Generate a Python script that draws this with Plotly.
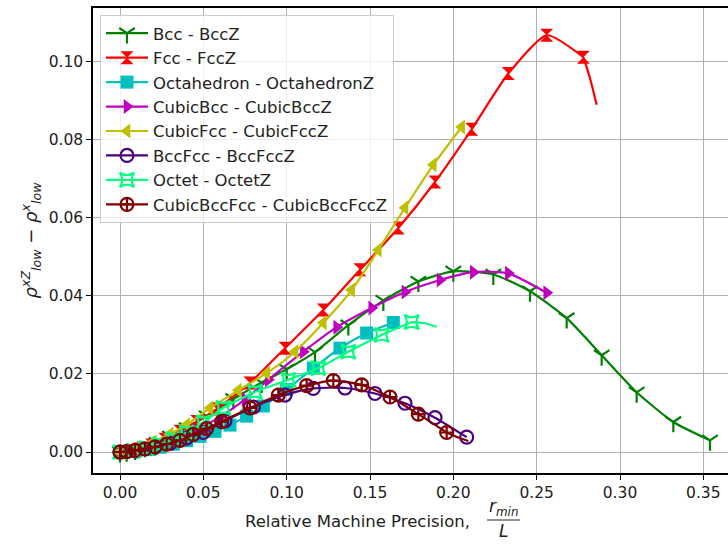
import plotly.graph_objects as go

# ---------------- data ----------------
names = ["Bcc - BccZ", "Fcc - FccZ", "Octahedron - OctahedronZ", "CubicBcc - CubicBccZ",
         "CubicFcc - CubicFccZ", "BccFcc - BccFccZ", "Octet - OctetZ", "CubicBccFcc - CubicBccFccZ"]
colors = ["#008000", "#ff0000", "#00bfbf", "#bf00bf", "#bfbf00", "#4b0082", "#00ff7f", "#800000"]
symbols = ["y-down-open", "hourglass", "square", "triangle-right", "triangle-left",
           "circle-open", "star-square-open", "circle-cross-open"]

bcc_x = [0.0, 0.004, 0.009, 0.015, 0.022, 0.030, 0.040, 0.052, 0.068, 0.085, 0.100, 0.117, 0.137,
         0.158, 0.179, 0.200, 0.224, 0.246, 0.268, 0.289, 0.310, 0.332, 0.354]
bcc_y = [0.0, 0.0002, 0.0006, 0.0013, 0.0024, 0.0040, 0.0062, 0.0092, 0.0136, 0.0178, 0.0212, 0.0256,
         0.0325, 0.0388, 0.0437, 0.0463, 0.0455, 0.0412, 0.0343, 0.0248, 0.0153, 0.0077, 0.0030]

fcc_x = [0.0, 0.006, 0.012, 0.019, 0.027, 0.036, 0.046, 0.058, 0.078, 0.099, 0.122, 0.144, 0.167,
         0.189, 0.211, 0.233, 0.256, 0.278]
fcc_y = [0.0, 0.0002, 0.0008, 0.0018, 0.0033, 0.0053, 0.0078, 0.0110, 0.0177, 0.0266, 0.0364, 0.0467,
         0.0574, 0.0692, 0.0827, 0.0970, 0.1068, 0.1012]
fcc_tail_x = [0.278, 0.282, 0.286]
fcc_tail_y = [0.1012, 0.0958, 0.0890]

octa_x = [0.0, 0.008, 0.016, 0.024, 0.032, 0.040, 0.048, 0.057, 0.066, 0.076, 0.086, 0.100, 0.116,
          0.132, 0.148, 0.164]
octa_y = [0.0, 0.0002, 0.0006, 0.0012, 0.0020, 0.0029, 0.0040, 0.0053, 0.0069, 0.0092, 0.0118, 0.0160,
          0.0215, 0.0266, 0.0305, 0.0332]

cbcc_x = [0.0, 0.010, 0.020, 0.030, 0.045, 0.060, 0.075, 0.089, 0.110, 0.130, 0.151, 0.171, 0.192,
          0.212, 0.233, 0.256]
cbcc_y = [0.0, 0.0004, 0.0013, 0.0028, 0.0055, 0.0090, 0.0135, 0.0185, 0.0257, 0.0320, 0.0369, 0.0410,
          0.0441, 0.0461, 0.0458, 0.0408]

cfcc_x = [0.0, 0.010, 0.020, 0.030, 0.040, 0.054, 0.071, 0.088, 0.105, 0.122, 0.139, 0.155, 0.171,
          0.188, 0.205]
cfcc_y = [0.0, 0.0010, 0.0026, 0.0046, 0.0070, 0.0113, 0.0158, 0.0202, 0.0257, 0.0331, 0.0415, 0.0518,
          0.0626, 0.0736, 0.0833]

bf_x = [0.0, 0.010, 0.020, 0.030, 0.040, 0.050, 0.063, 0.080, 0.099, 0.116, 0.135, 0.153, 0.171,
        0.189, 0.208]
bf_y = [0.0, 0.0003, 0.0010, 0.0022, 0.0036, 0.0050, 0.0080, 0.0115, 0.0146, 0.0163, 0.0164, 0.0150,
        0.0125, 0.0088, 0.0038]

oct_x = [0.0, 0.008, 0.016, 0.024, 0.032, 0.040, 0.050, 0.062, 0.081, 0.101, 0.119, 0.137, 0.157, 0.175]
oct_y = [0.0, 0.0003, 0.0010, 0.0020, 0.0033, 0.0050, 0.0076, 0.0113, 0.0154, 0.0185, 0.0215, 0.0257,
         0.0300, 0.0333]
oct_tail_x = [0.175, 0.183, 0.190]
oct_tail_y = [0.0333, 0.0330, 0.0321]

cbf_x = [0.0, 0.004, 0.009, 0.015, 0.021, 0.028, 0.036, 0.044, 0.052, 0.061, 0.078, 0.095, 0.112,
         0.128, 0.145, 0.162, 0.179, 0.196]
cbf_y = [0.0, 0.0001, 0.0004, 0.0008, 0.0013, 0.0020, 0.0030, 0.0045, 0.0060, 0.0078, 0.0113, 0.0146,
         0.0170, 0.0183, 0.0172, 0.0141, 0.0097, 0.0050]
cbf_tail_x = [0.196, 0.203, 0.209]
cbf_tail_y = [0.0050, 0.0037, 0.0028]

xs = [bcc_x, fcc_x, octa_x, cbcc_x, cfcc_x, bf_x, oct_x, cbf_x]
ys = [bcc_y, fcc_y, octa_y, cbcc_y, cfcc_y, bf_y, oct_y, cbf_y]
tails = {1: (fcc_tail_x, fcc_tail_y), 6: (oct_tail_x, oct_tail_y), 7: (cbf_tail_x, cbf_tail_y)}

x_ticks = [0.0, 0.05, 0.10, 0.15, 0.20, 0.25, 0.30, 0.35]
y_ticks = [0.0, 0.02, 0.04, 0.06, 0.08, 0.10]

# ---------------- figure ----------------
fig = go.Figure()
for i, name in enumerate(names):
    col = colors[i]
    sym = symbols[i]
    is_open = sym.endswith("-open")
    fig.add_trace(go.Scatter(
        x=xs[i], y=ys[i], mode="lines+markers", name=name, legendgroup=name,
        line=dict(color=col, width=2.2, shape="spline", smoothing=0.6),
        marker=dict(symbol=sym, size=13, color=col,
                    line=dict(color=col, width=2.2 if is_open else 0)),
    ))
    if i in tails:
        tx, ty = tails[i]
        fig.add_trace(go.Scatter(
            x=tx, y=ty, mode="lines", legendgroup=name, showlegend=False,
            line=dict(color=col, width=2.2, shape="spline", smoothing=0.6),
        ))

axis_common = dict(
    showgrid=True, gridcolor="#b0b0b0", gridwidth=1,
    showline=True, linecolor="black", linewidth=1.5,
    ticks="outside", ticklen=5, tickwidth=1.2, tickcolor="black",
    zeroline=False,
    tickfont=dict(family="DejaVu Sans", size=15.5, color="#222222"),
)

fig.update_layout(
    width=728, height=544,
    margin=dict(l=93, r=0, t=8, b=71),
    paper_bgcolor="white", plot_bgcolor="white",
    font=dict(family="DejaVu Sans", color="#222222"),
    xaxis=dict(range=[-0.0162, 0.3648], tickvals=x_ticks,
               ticktext=[f"{v:.2f}" for v in x_ticks], mirror=True, **axis_common),
    yaxis=dict(range=[-0.00538, 0.1138], tickvals=y_ticks,
               ticktext=[f"{v:.2f}" for v in y_ticks],
               title=dict(text="<i>ρ</i><sup><i>xZ</i></sup><sub><i>low</i></sub> − <i>ρ</i><sup><i>x</i></sup><sub><i>low</i></sub>",
                          font=dict(family="DejaVu Sans", size=18, color="#222222"), standoff=6),
               **axis_common),
    legend=dict(x=0.011, y=0.985, xanchor="left", yanchor="top",
                bgcolor="rgba(255,255,255,0.8)", bordercolor="#cccccc", borderwidth=1,
                font=dict(family="DejaVu Sans", size=16.5, color="#222222"),
                tracegroupgap=0, traceorder="grouped", itemwidth=42),
    showlegend=True,
)

# x-axis title with a stacked fraction r_min / L
fig.add_annotation(text="Relative Machine Precision,", xref="paper", yref="paper",
                   x=(472 - 93) / 635, y=-(521 - 473) / 465, xanchor="right", yanchor="middle",
                   showarrow=False, font=dict(family="DejaVu Sans", size=16.5, color="#222222"))
fig.add_annotation(text="<i>r</i><sub><i>min</i></sub>", xref="paper", yref="paper",
                   x=(503 - 93) / 635, y=-(508 - 473) / 465, xanchor="center", yanchor="middle",
                   showarrow=False, font=dict(family="DejaVu Sans", size=17, color="#222222"))
fig.add_annotation(text="<i>L</i>", xref="paper", yref="paper",
                   x=(503 - 93) / 635, y=-(531 - 473) / 465, xanchor="center", yanchor="middle",
                   showarrow=False, font=dict(family="DejaVu Sans", size=17, color="#222222"))
fig.add_shape(type="line", xref="paper", yref="paper",
              x0=(487 - 93) / 635, x1=(520 - 93) / 635,
              y0=-(520 - 473) / 465, y1=-(520 - 473) / 465,
              line=dict(color="#222222", width=1))

fig.write_html("out.html")
